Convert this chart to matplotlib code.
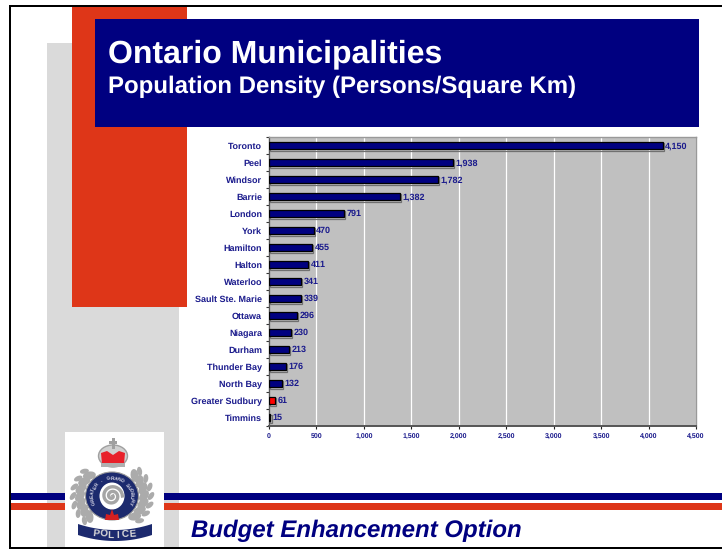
import numpy as np
import matplotlib
matplotlib.use("Agg")
import matplotlib.pyplot as plt
from matplotlib.patches import Rectangle, Ellipse, Polygon
import matplotlib.patheffects as pe

cities = ["Toronto","Peel","Windsor","Barrie","London","York","Hamilton","Halton","Waterloo",
          "Sault Ste. Marie","Ottawa","Niagara","Durham","Thunder Bay","North Bay","Greater Sudbury","Timmins"]
density = [4150,1938,1782,1382,791,470,455,411,341,339,296,230,213,176,132,61,15]
highlight = "Greater Sudbury"
xticks = [0,500,1000,1500,2000,2500,3000,3500,4000,4500]

W,H = 722,550
NAVY="#000080"; RED="#DE3618"; GRAY="#DADADA"; PLOT="#C0C0C0"; TXT="#1A1A8C"
plt.rcParams['font.family']=['Liberation Sans','DejaVu Sans']
plt.rcParams['text.hinting']='none'
plt.rcParams['text.hinting_factor']=1
fig = plt.figure(figsize=(W/100,H/100),dpi=100)
bg = fig.add_axes([0,0,1,1]); bg.set_xlim(0,W); bg.set_ylim(H,0); bg.axis('off')
def R(x0,y0,x1,y1,c,z=1):
    bg.add_patch(Rectangle((x0,y0),x1-x0,y1-y0,fc=c,ec='none',zorder=z))
R(47,43,179,548,GRAY,1)
R(72,7,187,307,RED,2)
R(95,19,699,127,NAVY,3)
R(11,493,722,500,NAVY,2)
R(11,503,722,510,RED,2)
R(65,432,164,547,'white',4)
R(9,5,722,7,'black',30); R(9,5,11,549,'black',30); R(9,546.5,722,549,'black',30)
bg.text(108,62,"Ontario Municipalities",color='white',fontsize=23,fontweight='bold',va='baseline',zorder=7)
bg.text(108,93,"Population Density (Persons/Square Km)",color='white',fontsize=17.2,fontweight='bold',va='baseline',zorder=7)
bg.text(191,537,"Budget Enhancement Option",color=NAVY,fontsize=17.3,fontweight='bold',style='italic',va='baseline',zorder=7)

# crest
cx,cy=112,496
lg="#ABABAB"; dk="#1C2A6E"
for a in np.arange(-135,136,15):
    if abs(a)<35: continue
    t=np.radians(a)
    for (rx,ry,w,h) in [(32,29,13,8),(39,35,9,5)]:
        bg.add_patch(Ellipse((cx+rx*np.sin(t),cy-ry*np.cos(t)),w,h,angle=np.degrees(t)+35,fc=lg,ec='none',zorder=5))
bg.add_patch(Ellipse((cx,cy),53,48,fc=dk,ec='#9a9a9a',lw=0.8,zorder=6))
bg.add_patch(Ellipse((cx,cy),25,27,fc="white",ec='none',zorder=7))
th=np.linspace(0,4*np.pi,60)
bg.plot(cx+(1+th*0.75)*np.cos(th),cy+(1+th*0.75)*np.sin(th),color="#A5A5A5",lw=2.4,zorder=8)
bg.add_patch(Polygon([[cx-7,cy+24],[cx-6,cy+18],[cx-2,cy+19],[cx,cy+13],[cx+2,cy+19],[cx+6,cy+18],[cx+7,cy+24]],fc="#D42020",ec='none',zorder=9))
ring="GREATER . GRAND SUDBURY"
for ch,a in zip(ring,np.linspace(-112,112,len(ring))):
    t=np.radians(a)
    bg.text(cx+19.5*np.sin(t),cy-17.5*np.cos(t),ch,color='#D5D5E5',fontsize=3.8,fontweight='bold',
            ha='center',va='center',rotation=-a,zorder=10)
# crown
bg.add_patch(Ellipse((113,456),29,22,fc="#D0D0D0",ec="#A0A0A0",lw=1,zorder=6))
bg.add_patch(Polygon([[102,464],[101,453],[107,451],[113,455],[119,451],[125,453],[124,464]],fc="#E8202A",ec='none',zorder=7))
R(101,463,125,467,"#B0B0B0",8)
R(111.5,438,114.5,449,"#A0A0A0",7); R(109,441,117,444,"#A0A0A0",7)
# ribbon
xs=np.linspace(78,152,30)
sag=6*(1-((xs-115)/37)**2)
bg.add_patch(Polygon(np.r_[np.c_[xs,524+sag],np.c_[xs[::-1],535+sag[::-1]]],fc=dk,ec='none',zorder=9))
for i,ch in enumerate("POLICE"):
    x=96+i*7.2; s=6*(1-((x-115)/37)**2)
    bg.text(x,529.5+s,ch,color='#D8D8D8',fontsize=7.5,fontweight='bold',ha='center',va='center',zorder=10,rotation=(115-x)*0.3*-1)

# chart
L,Rt,T,B=269,696,137,426
ax=fig.add_axes([L/W,1-B/H,(Rt-L)/W,(B-T)/H],zorder=5)
ax.set_facecolor(PLOT)
y=np.arange(len(cities))
colors=["#FF0000" if c==highlight else NAVY for c in cities]
ax.barh(y,density,height=0.46,color=colors,edgecolor='black',linewidth=0.9,zorder=3,
        path_effects=[pe.SimpleLineShadow(offset=(0.8,-0.8),shadow_color='#707070',alpha=1),pe.Normal()])
ax.set_ylim(len(cities)-0.5,-0.5); ax.set_xlim(0,4500)
ax.set_xticks(xticks); ax.set_xticklabels([f"{v:,}" for v in xticks],fontsize=5.2,fontweight='bold',color=TXT)
ax.set_yticks(y); ax.set_yticklabels(cities,fontsize=6.3,fontweight='bold',color=TXT)
ax.set_yticks(np.arange(len(cities)+1)-0.5,minor=True)
ax.tick_params(axis='y',which='major',length=0,pad=5)
ax.tick_params(axis='y',which='minor',length=2.5,width=.8,color='#333333')
ax.tick_params(axis='x',length=2,width=.8,color='#222222',pad=3.2)
ax.grid(axis='x',color='white',lw=0.9,zorder=1); ax.set_axisbelow(True)
for s in ['top','right']:
    ax.spines[s].set_color('#999999'); ax.spines[s].set_linewidth(1)
ax.spines['left'].set_color('#555555'); ax.spines['bottom'].set_color('#555555')
ax.spines['bottom'].set_linewidth(1.4); ax.spines['left'].set_linewidth(1)
for i,v in enumerate(density):
    ax.annotate(f"{v:,}",(v,i),xytext=(1.8,-0.4),textcoords='offset points',va='center',fontsize=6.4,
                fontweight='bold',color=TXT,zorder=4)
fig.savefig("out.png",dpi=100)
